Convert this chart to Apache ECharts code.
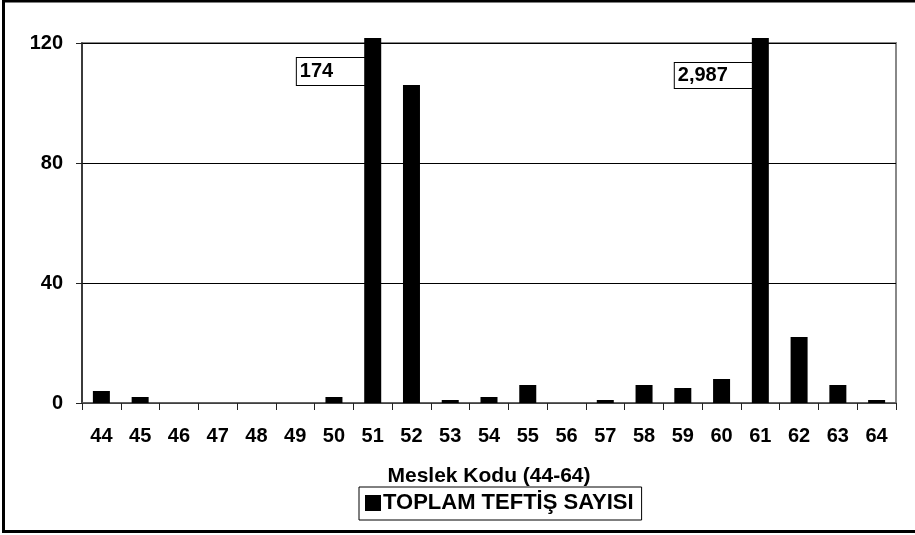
<!DOCTYPE html>
<html>
<head>
<meta charset="utf-8">
<script src="https://cdn.jsdelivr.net/npm/echarts@6/dist/echarts.min.js"></script>
<style>
html,body{margin:0;padding:0;background:#fff;}
#c{width:915px;height:535px;}
</style>
</head>
<body>
<div id="c"></div>
<script>
const categories = ['44','45','46','47','48','49','50','51','52','53','54','55','56','57','58','59','60','61','62','63','64'];
const values = [4, 2, 0, 0, 0, 0, 2, 174, 106, 1, 2, 6, 0, 1, 6, 5, 8, 2987, 22, 6, 1];
const yTicks = [0, 40, 80, 120];
const seriesName = 'TOPLAM TEFTİŞ SAYISI';
const axisTitle = 'Meslek Kodu (44-64)';

const yMax = yTicks[yTicks.length - 1];
const overflowCap = yMax * 1.014;
const FONT = 'Liberation Sans, Arial, sans-serif';
const FS = 20;
const FS_TEXT = 21;

const barData = values.map((v, i) => {
  if (v > yMax) {
    const big = v > 1000;
    return {
      value: overflowCap,
      label: {
        show: true,
        position: [0, big ? 25 : 20],
        align: 'right',
        verticalAlign: 'top',
        formatter: () => v.toLocaleString('en-US'),
        color: '#000',
        fontFamily: FONT,
        fontWeight: 'bold',
        fontSize: FS,
        lineHeight: 20,
        backgroundColor: '#fff',
        borderColor: '#000',
        borderWidth: 1,
        padding: big ? [3, 24, 2, 3] : [4, 31, 3, 3]
      }
    };
  }
  return v;
});

const chart = echarts.init(document.getElementById('c'), null, {renderer: 'canvas'});
chart.setOption({
  animation: false,
  backgroundColor: '#fff',
  textStyle: {fontFamily: FONT},
  grid: {left: 82, top: 43, right: 19, bottom: 132, show: true, borderColor: '#888', borderWidth: 2, backgroundColor: 'transparent'},
  xAxis: {
    type: 'category',
    data: categories,
    name: axisTitle,
    nameLocation: 'middle',
    nameGap: 63,
    nameTextStyle: {color: '#000', fontSize: FS_TEXT, fontWeight: 'bold', fontFamily: FONT},
    axisLine: {lineStyle: {color: '#555', width: 1.5}},
    axisTick: {show: true, length: 7, lineStyle: {color: '#222'}},
    axisLabel: {color: '#000', fontSize: FS, fontWeight: 'bold', fontFamily: FONT, margin: 23}
  },
  yAxis: {
    type: 'value',
    min: 0,
    max: yMax,
    interval: 40,
    axisLine: {show: true, lineStyle: {color: '#222', width: 1.5}},
    axisTick: {show: true, length: 6, lineStyle: {color: '#222'}},
    axisLabel: {color: '#000', fontSize: FS, fontWeight: 'bold', fontFamily: FONT, margin: 19},
    splitLine: {show: true, lineStyle: {color: '#000', width: 1}}
  },
  legend: {
    show: true,
    data: [seriesName],
    left: 359,
    top: 487,
    itemWidth: 16,
    itemHeight: 16,
    itemGap: 4,
    padding: [5, 8, 6, 6],
    borderColor: '#000',
    borderWidth: 1,
    icon: 'rect',
    textStyle: {color: '#000', fontSize: 22, fontWeight: 'bold', fontFamily: FONT, padding: [0, 0, 0, -3]}
  },
  graphic: [{
    type: 'rect',
    shape: {x: 3.5, y: 1, width: 915, height: 530.5},
    style: {fill: 'none', stroke: '#000', lineWidth: 3},
    silent: true
  }],
  series: [{
    name: seriesName,
    type: 'bar',
    data: barData,
    barWidth: 17,
    clip: false,
    itemStyle: {color: '#000'},
    label: {show: false}
  }]
});
</script>
</body>
</html>
